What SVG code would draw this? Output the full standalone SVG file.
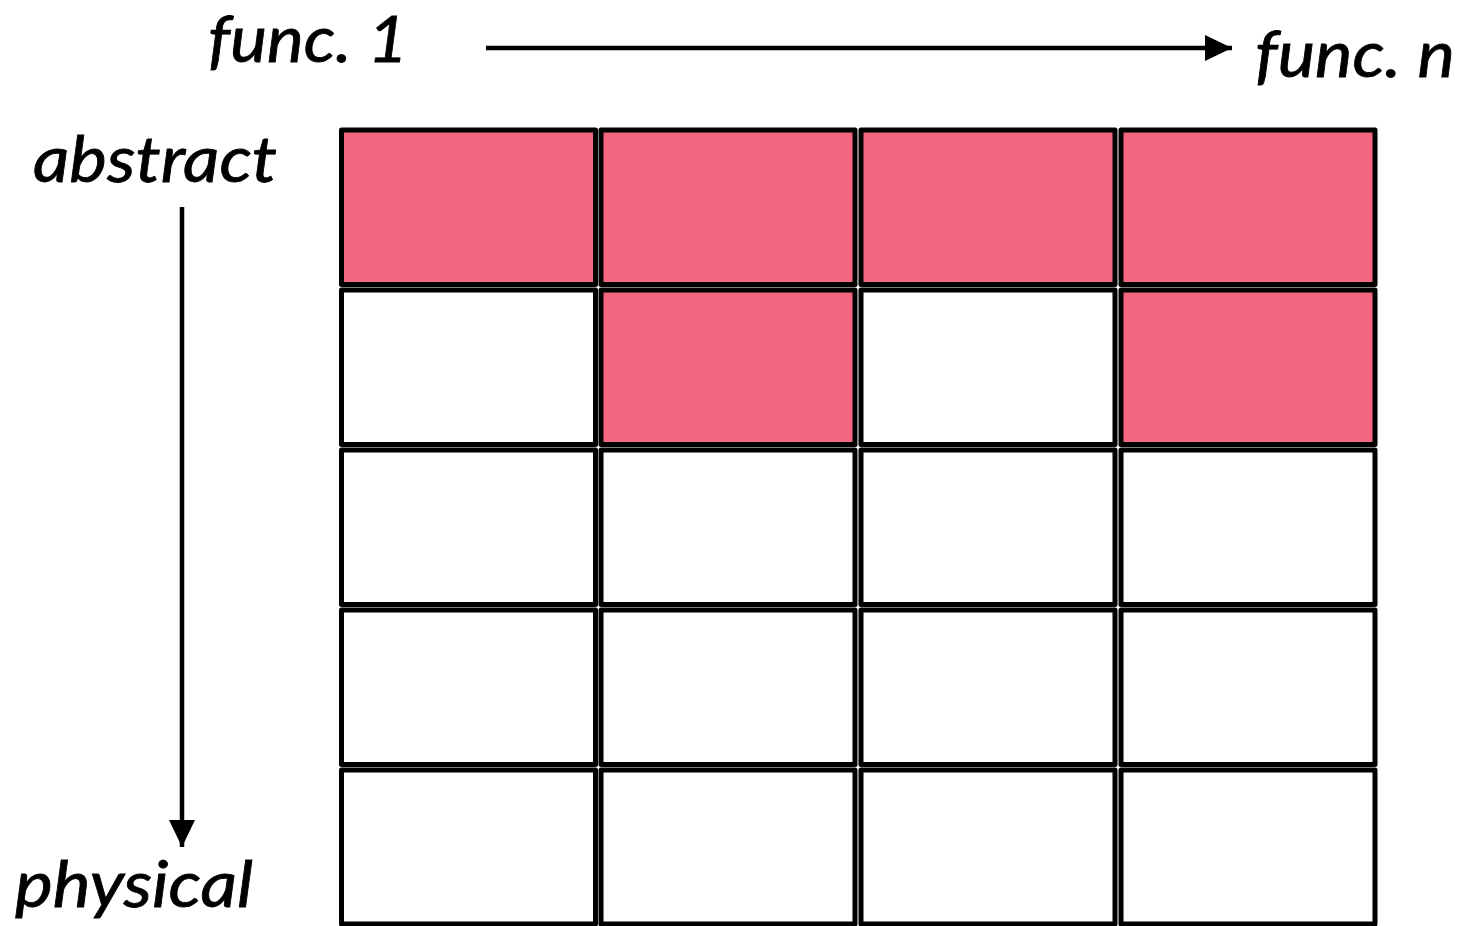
<svg xmlns="http://www.w3.org/2000/svg" width="1466" height="926" viewBox="0 0 1466 926">
<style>
.cell{stroke:#000;stroke-width:5;stroke-linejoin:round;fill:#fff}
.on{fill:#F46782}
.lbl{font-family:Lato,"Open Sans","Liberation Sans",sans-serif;font-style:italic;font-size:64px;fill:#000;stroke:#000;stroke-width:0.8}
.ar{stroke:#000;stroke-width:4.5;fill:none}
</style>
<defs>
<marker id="ah" markerUnits="userSpaceOnUse" markerWidth="30" markerHeight="30" viewBox="0 0 30 30" refX="27" refY="15" orient="auto">
<path d="M0,2 L27,15 L0,28 Z" fill="#000"/>
</marker>
</defs>
<rect width="1466" height="926" fill="#fff"/>
<g id="labels">
<text id="func1" class="lbl" x="208" y="62" textLength="200" lengthAdjust="spacingAndGlyphs">func. 1</text>
<text id="funcn" class="lbl" x="1255" y="77" textLength="200" lengthAdjust="spacingAndGlyphs">func. n</text>
<text id="abstract" class="lbl" x="33" y="182" textLength="244" lengthAdjust="spacingAndGlyphs">abstract</text>
<text id="physical" class="lbl" x="15" y="907" textLength="238" lengthAdjust="spacingAndGlyphs">physical</text>
</g>
<g id="connectors">
<line class="ar" x1="486" y1="48" x2="1232" y2="48" marker-end="url(#ah)"/>
<line class="ar" x1="182" y1="207" x2="182" y2="847" marker-end="url(#ah)"/>
</g>
<g id="grid">
<g id="r1">
<rect id="c11" class="cell on" x="341.5" y="130" width="254" height="154.5"/>
<rect id="c12" class="cell on" x="601" y="130" width="254" height="154.5"/>
<rect id="c13" class="cell on" x="861" y="130" width="254" height="154.5"/>
<rect id="c14" class="cell on" x="1121" y="130" width="254" height="154.5"/>
</g>
<g id="r2">
<rect id="c21" class="cell" x="341.5" y="290" width="254" height="154.5"/>
<rect id="c22" class="cell on" x="601" y="290" width="254" height="154.5"/>
<rect id="c23" class="cell" x="861" y="290" width="254" height="154.5"/>
<rect id="c24" class="cell on" x="1121" y="290" width="254" height="154.5"/>
</g>
<g id="r3">
<rect id="c31" class="cell" x="341.5" y="450" width="254" height="154.5"/>
<rect id="c32" class="cell" x="601" y="450" width="254" height="154.5"/>
<rect id="c33" class="cell" x="861" y="450" width="254" height="154.5"/>
<rect id="c34" class="cell" x="1121" y="450" width="254" height="154.5"/>
</g>
<g id="r4">
<rect id="c41" class="cell" x="341.5" y="610" width="254" height="154.5"/>
<rect id="c42" class="cell" x="601" y="610" width="254" height="154.5"/>
<rect id="c43" class="cell" x="861" y="610" width="254" height="154.5"/>
<rect id="c44" class="cell" x="1121" y="610" width="254" height="154.5"/>
</g>
<g id="r5">
<rect id="c51" class="cell" x="341.5" y="770" width="254" height="154"/>
<rect id="c52" class="cell" x="601" y="770" width="254" height="154"/>
<rect id="c53" class="cell" x="861" y="770" width="254" height="154"/>
<rect id="c54" class="cell" x="1121" y="770" width="254" height="154"/>
</g>
</g>
</svg>
